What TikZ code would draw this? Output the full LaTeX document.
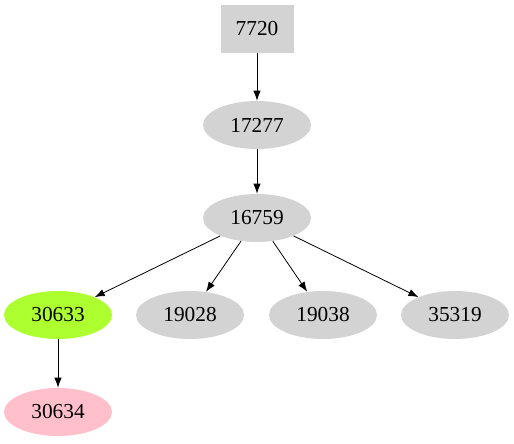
\documentclass[tikz,border=0pt]{standalone}
\usepackage{fontspec}
\setmainfont{Liberation Serif}
\usetikzlibrary{shapes.geometric,arrows.meta}
\definecolor{lgray}{HTML}{D3D3D3}
\definecolor{gyellow}{HTML}{ADFF2F}
\definecolor{pinkc}{HTML}{FFC0CB}
\tikzset{
  ell/.style={ellipse, fill=lgray, draw=none, minimum width=81pt, minimum height=36pt, inner sep=0pt, font=\fontsize{16pt}{18pt}\selectfont},
  boxn/.style={rectangle, fill=lgray, draw=none, minimum width=54.75pt, minimum height=36pt, inner sep=0pt, font=\fontsize{16pt}{18pt}\selectfont},
  edge/.style={-{Latex[length=7.5pt,width=5.5pt]}, line width=0.6pt, black}
}
\begin{document}
\begin{tikzpicture}[x=0.75pt,y=-0.75pt]
\useasboundingbox (0,0) rectangle (514,443);
\node[boxn] (n7720) at (257,29) {7720};
\node[ell] (n17277) at (257,125) {17277};
\node[ell] (n16759) at (257,218) {16759};
\node[ell, fill=gyellow] (n30633) at (58,315) {30633};
\node[ell] (n19028) at (190,315) {19028};
\node[ell] (n19038) at (323,315) {19038};
\node[ell] (n35319) at (455,315) {35319};
\node[ell, fill=pinkc] (n30634) at (58,412) {30634};
\draw[edge] (n7720) -- (n17277);
\draw[edge] (n17277) -- (n16759);
\draw[edge] (n16759) -- (n30633);
\draw[edge] (n16759) -- (n19028);
\draw[edge] (n16759) -- (n19038);
\draw[edge] (n16759) -- (n35319);
\draw[edge] (n30633) -- (n30634);
\end{tikzpicture}
\end{document}
